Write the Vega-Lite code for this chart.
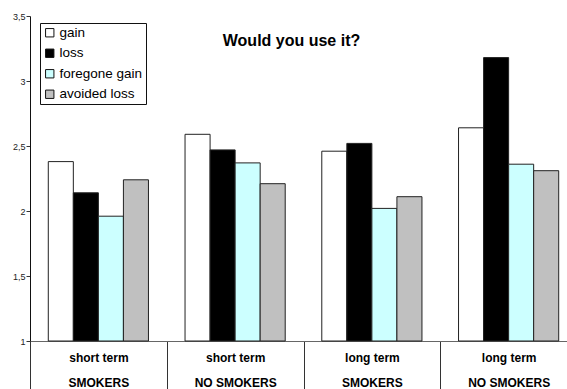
{
  "$schema": "https://vega.github.io/schema/vega-lite/v6.json",
  "width": 547,
  "height": 325,
  "autosize": {"type": "none"},
  "padding": {"left": 30, "top": 16, "right": 0, "bottom": 50},
  "background": "white",
  "title": {
    "text": "Would you use it?",
    "font": "Liberation Sans",
    "fontSize": 16,
    "fontWeight": "bold",
    "color": "black",
    "anchor": "middle",
    "frame": "group",
    "offset": 0,
    "dx": -12,
    "dy": 37
  },
  "data": {
    "values": [
      {"group": "short term|SMOKERS", "type": "gain", "value": 2.38},
      {"group": "short term|SMOKERS", "type": "loss", "value": 2.14},
      {"group": "short term|SMOKERS", "type": "foregone gain", "value": 1.96},
      {"group": "short term|SMOKERS", "type": "avoided loss", "value": 2.24},
      {"group": "short term|NO SMOKERS", "type": "gain", "value": 2.59},
      {"group": "short term|NO SMOKERS", "type": "loss", "value": 2.47},
      {"group": "short term|NO SMOKERS", "type": "foregone gain", "value": 2.37},
      {"group": "short term|NO SMOKERS", "type": "avoided loss", "value": 2.21},
      {"group": "long term|SMOKERS", "type": "gain", "value": 2.46},
      {"group": "long term|SMOKERS", "type": "loss", "value": 2.52},
      {"group": "long term|SMOKERS", "type": "foregone gain", "value": 2.02},
      {"group": "long term|SMOKERS", "type": "avoided loss", "value": 2.11},
      {"group": "long term|NO SMOKERS", "type": "gain", "value": 2.64},
      {"group": "long term|NO SMOKERS", "type": "loss", "value": 3.18},
      {"group": "long term|NO SMOKERS", "type": "foregone gain", "value": 2.36},
      {"group": "long term|NO SMOKERS", "type": "avoided loss", "value": 2.31}
    ]
  },
  "mark": {"type": "bar", "stroke": "#222222", "strokeWidth": 1, "opacity": 1},
  "encoding": {
    "x": {
      "field": "group",
      "type": "nominal",
      "sort": null,
      "scale": {"paddingInner": 0, "paddingOuter": 0},
      "axis": {
        "title": null,
        "labelAngle": 0,
        "labelExpr": "split(datum.label, '|')",
        "labelFont": "Liberation Sans",
        "labelFontSize": 12,
        "labelFontWeight": "bold",
        "labelColor": "black",
        "labelBaseline": "top",
        "labelLineHeight": 25,
        "labelPadding": -39,
        "tickBand": "extent",
        "tickSize": 50,
        "tickColor": "#333333",
        "tickWidth": 1,
        "domainColor": "#666666",
        "domainWidth": 1,
        "grid": false
      }
    },
    "xOffset": {
      "field": "type",
      "type": "nominal",
      "sort": ["gain", "loss", "foregone gain", "avoided loss"],
      "scale": {"paddingInner": 0, "paddingOuter": 0.73}
    },
    "y": {
      "field": "value",
      "type": "quantitative",
      "scale": {"domain": [1, 3.5], "zero": false, "nice": false},
      "axis": {
        "title": null,
        "values": [1, 1.5, 2, 2.5, 3, 3.5],
        "format": ".1~f",
        "labelExpr": "replace(datum.label, '.', ',')",
        "labelFont": "Liberation Sans",
        "labelFontSize": 9,
        "labelColor": "#222222",
        "tickSize": 4,
        "tickColor": "#333333",
        "labelPadding": 1,
        "domainColor": "#111111",
        "grid": false
      }
    },
    "y2": {"datum": 1},
    "color": {
      "field": "type",
      "type": "nominal",
      "sort": ["gain", "loss", "foregone gain", "avoided loss"],
      "scale": {
        "domain": ["gain", "loss", "foregone gain", "avoided loss"],
        "range": ["#FFFFFF", "#000000", "#CCFFFF", "#C0C0C0"]
      },
      "legend": {
        "title": null,
        "orient": "none",
        "legendX": 10,
        "legendY": 7,
        "symbolType": "square",
        "symbolSize": 70,
        "symbolStrokeColor": "#111111",
        "symbolStrokeWidth": 1,
        "labelFont": "Liberation Sans",
        "labelFontSize": 13.5,
        "labelColor": "black",
        "labelOffset": 3,
        "rowPadding": 5.5,
        "padding": 3,
        "strokeColor": "#111111",
        "fillColor": "white"
      }
    }
  },
  "config": {"view": {"stroke": null}}
}
